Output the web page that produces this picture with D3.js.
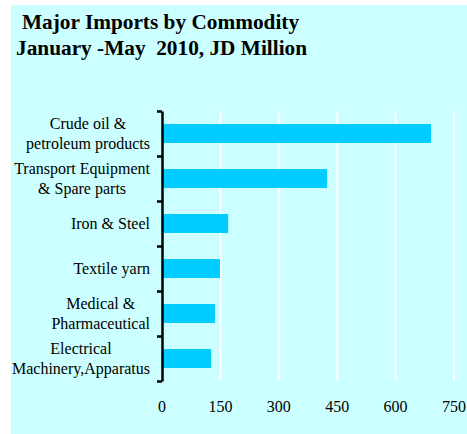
<!DOCTYPE html>
<html>
<head>
<meta charset="utf-8">
<script src="https://cdn.jsdelivr.net/npm/d3@7"></script>
<style>
  html, body { margin: 0; padding: 0; background: #ffffff; }
  svg { display: block; }
  .title { white-space: pre; }
</style>
</head>
<body>
<svg id="chart" width="467" height="434"></svg>
<script>
// Major imports by commodity, January–May 2010 (JD million)
const categories = [
  ["Crude oil &", "petroleum products"],
  ["Transport Equipment", "& Spare parts"],
  ["Iron & Steel"],
  ["Textile yarn"],
  ["Medical &", "Pharmaceutical"],
  ["Electrical", "Machinery,Apparatus"]
];
const values = [691, 424, 170, 149, 136, 126];
const tickValues = [0, 150, 300, 450, 600, 750];
const titleLines = ["Major Imports by Commodity", "January -May  2010, JD Million"];

const svg = d3.select("#chart");
const W = 467, H = 434;
const serif = "'Liberation Serif', 'Times New Roman', Times, serif";

// panel background
svg.append("rect")
  .attr("x", 11).attr("y", 5)
  .attr("width", W - 11).attr("height", H - 5)
  .attr("fill", "#ccffff");

// title
svg.append("text")
  .attr("class", "title")
  .attr("font-family", serif).attr("font-weight", "bold").attr("font-size", 21.3)
  .attr("fill", "#000")
  .selectAll("tspan").data(titleLines).join("tspan")
  .attr("x", (d, i) => i === 0 ? 22 : 16)
  .attr("y", (d, i) => 29 + i * 26)
  .text(d => d);

const plot = { left: 162, right: 454, top: 111, bottom: 381 };

const x = d3.scaleLinear().domain([0, 750]).range([plot.left, plot.right]);
const y = d3.scaleBand()
  .domain(d3.range(categories.length))
  .range([plot.top, plot.bottom])
  .paddingInner(0.58).paddingOuter(0.29);

// vertical gridlines
svg.append("g").selectAll("line")
  .data(tickValues.filter(v => v > 0)).join("line")
  .attr("x1", d => x(d)).attr("x2", d => x(d))
  .attr("y1", plot.top).attr("y2", plot.bottom)
  .attr("stroke", "#ffffff").attr("stroke-width", 2);

// bars
svg.append("g").selectAll("rect")
  .data(values).join("rect")
  .attr("x", x(0))
  .attr("y", (d, i) => y(i))
  .attr("width", d => x(d) - x(0))
  .attr("height", y.bandwidth())
  .attr("fill", "#00ccff");

// category axis with ticks at band boundaries
const edge = d3.scaleLinear().domain([0, categories.length]).range([plot.top, plot.bottom]);
const yAxis = d3.axisLeft(edge)
  .tickValues(d3.range(categories.length + 1))
  .tickFormat("")
  .tickSize(5).tickSizeOuter(0);
const gy = svg.append("g").attr("transform", `translate(${plot.left},0)`).call(yAxis);
gy.selectAll("path, line").attr("stroke", "#000").attr("stroke-width", 2.5);

// category labels: centred lines, block right-aligned to the axis
const labels = svg.append("g").attr("font-family", serif).attr("font-size", 16).attr("fill", "#000");
categories.forEach((lines, i) => {
  const cy = y(i) + y.bandwidth() / 2;
  const lh = 20;
  const t = labels.append("text").attr("text-anchor", "middle");
  const spans = t.selectAll("tspan").data(lines).join("tspan")
    .attr("y", (d, k) => cy + 5.5 + (k - (lines.length - 1) / 2) * lh)
    .text(d => d);
  let maxW = 0;
  spans.each(function () { maxW = Math.max(maxW, this.getComputedTextLength()); });
  spans.attr("x", 150 - maxW / 2);
});

// value axis labels
svg.append("g").attr("font-family", serif).attr("font-size", 16).attr("fill", "#000")
  .selectAll("text").data(tickValues).join("text")
  .attr("x", d => x(d)).attr("y", 412)
  .attr("text-anchor", "middle")
  .text(d => d);
</script>
</body>
</html>
